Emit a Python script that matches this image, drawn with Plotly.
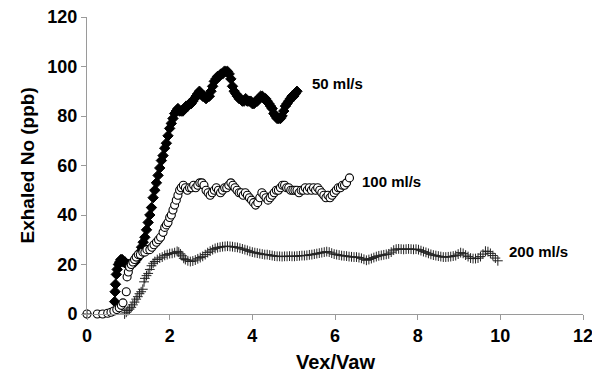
import plotly.graph_objects as go

# ---- data ----
x_50 = [0.67, 0.68, 0.69, 0.71, 0.73, 0.76, 0.79, 0.82, 0.85, 0.88, 0.92, 0.96, 1.00, 1.04, 1.08,
        1.12, 1.16, 1.20, 1.24, 1.28, 1.32, 1.36, 1.40, 1.44, 1.48, 1.52, 1.56, 1.60, 1.64, 1.68,
        1.72, 1.76, 1.80, 1.84, 1.88, 1.92, 1.96, 2.00, 2.04, 2.08, 2.12, 2.16, 2.20, 2.24, 2.28,
        2.32, 2.36, 2.40, 2.44, 2.48, 2.52, 2.56, 2.60, 2.64, 2.68, 2.72, 2.76, 2.80, 2.84, 2.88,
        2.92, 2.96, 3.00, 3.04, 3.08, 3.12, 3.16, 3.20, 3.24, 3.28, 3.32, 3.36, 3.40, 3.44, 3.48,
        3.52, 3.56, 3.60, 3.64, 3.68, 3.72, 3.76, 3.80, 3.84, 3.88, 3.92, 3.96, 4.00, 4.04, 4.08,
        4.12, 4.16, 4.20, 4.24, 4.28, 4.32, 4.36, 4.40, 4.44, 4.48, 4.52, 4.56, 4.60, 4.64, 4.68,
        4.72, 4.76, 4.80, 4.84, 4.88, 4.92, 4.96, 5.00, 5.04, 5.08]
y_50 = [5, 9, 12, 16, 18, 20, 21, 22, 22, 21, 21, 20, 20, 20, 20,
        21, 21, 22, 23, 25, 27, 29, 31, 34, 37, 40, 43, 47, 50, 53,
        56, 59, 62, 64, 67, 69, 72, 75, 77, 79, 81, 82, 83, 82, 82,
        82, 83, 84, 84, 85, 85, 86, 87, 88, 89, 90, 89, 88, 88, 87,
        88, 88, 90, 92, 94, 95, 96, 96, 97, 97, 98, 98, 98, 97, 95,
        92, 90, 89, 88, 87, 87, 86, 86, 87, 86, 86, 86, 85, 85, 86,
        86, 87, 88, 88, 87, 87, 86, 85, 84, 83, 81, 80, 79, 79, 79,
        80, 82, 84, 85, 86, 87, 88, 88, 89, 90]

x_100 = [0.00, 0.25, 0.38, 0.50, 0.58, 0.65, 0.72, 0.78, 0.83, 0.87, 0.95, 0.97, 1.00, 1.03, 1.07,
         1.11, 1.15, 1.19, 1.24, 1.29, 1.35, 1.40, 1.45, 1.52, 1.57, 1.62, 1.68, 1.73, 1.78, 1.84,
         1.88, 1.92, 1.96, 2.00, 2.04, 2.08, 2.12, 2.16, 2.20, 2.24, 2.28, 2.33, 2.38, 2.43, 2.48,
         2.53, 2.58, 2.63, 2.68, 2.73, 2.78, 2.83, 2.88, 2.93, 2.98, 3.03, 3.08, 3.13, 3.18, 3.23,
         3.28, 3.33, 3.38, 3.43, 3.48, 3.53, 3.58, 3.63, 3.68, 3.73, 3.78, 3.83, 3.88, 3.93, 3.98,
         4.03, 4.08, 4.13, 4.18, 4.23, 4.28, 4.33, 4.38, 4.43, 4.48, 4.53, 4.58, 4.63, 4.68, 4.73,
         4.78, 4.83, 4.88, 4.93, 4.98, 5.03, 5.08, 5.13, 5.18, 5.23, 5.28, 5.33, 5.38, 5.43, 5.48,
         5.53, 5.58, 5.63, 5.68, 5.73, 5.78, 5.83, 5.88, 5.93, 5.98, 6.03, 6.08, 6.13, 6.18, 6.23,
         6.28, 6.35]
y_100 = [0, 0, 0, 0.3, 0.7, 1.2, 1.8, 2.5, 3.5, 4.5, 9, 15, 17, 19, 20,
         21, 22, 23, 24, 24, 25, 25, 26, 26, 27, 28, 29, 30, 31, 33,
         35, 36, 37, 39, 40, 42, 44, 46, 48, 50, 51, 52, 51, 50, 51,
         51, 52, 51, 52, 53, 53, 52, 50, 49, 48, 49, 50, 51, 50, 49,
         50, 51, 51, 52, 53, 52, 51, 50, 49, 49, 48, 49, 48, 47, 46,
         45, 44, 45, 47, 49, 48, 47, 46, 47, 48, 49, 50, 50, 51, 52,
         52, 51, 51, 50, 50, 50, 50, 49, 50, 50, 51, 50, 51, 50, 51,
         50, 51, 50, 49, 48, 47, 48, 47, 48, 49, 50, 51, 51, 52, 52,
         53, 55]

x_200 = [0.00, 0.91, 0.95, 0.99, 1.03, 1.07, 1.11, 1.15, 1.19, 1.23, 1.27, 1.31, 1.35, 1.38, 1.40,
         1.44, 1.48, 1.52, 1.56, 1.60, 1.64, 1.70, 1.76, 1.82, 1.88, 1.94, 2.00, 2.06, 2.12, 2.18,
         2.22, 2.26, 2.30, 2.34, 2.38, 2.44, 2.50, 2.56, 2.62, 2.68, 2.74, 2.80, 2.86, 2.92, 2.98,
         3.04, 3.10, 3.16, 3.22, 3.28, 3.34, 3.40, 3.46, 3.52, 3.58, 3.64, 3.70, 3.76, 3.82, 3.88,
         3.94, 4.00, 4.06, 4.12, 4.18, 4.24, 4.30, 4.36, 4.42, 4.48, 4.54, 4.60, 4.66, 4.72, 4.78,
         4.84, 4.90, 4.96, 5.02, 5.08, 5.14, 5.20, 5.26, 5.32, 5.38, 5.44, 5.50, 5.56, 5.62, 5.68,
         5.74, 5.80, 5.86, 5.92, 5.98, 6.04, 6.10, 6.16, 6.22, 6.28, 6.34, 6.40, 6.46, 6.52, 6.58,
         6.64, 6.70, 6.76, 6.82, 6.88, 6.94, 7.00, 7.06, 7.12, 7.18, 7.24, 7.30, 7.36, 7.42, 7.48,
         7.54, 7.60, 7.66, 7.72, 7.78, 7.84, 7.90, 7.96, 8.02, 8.08, 8.14, 8.20, 8.26, 8.32, 8.38,
         8.44, 8.50, 8.56, 8.62, 8.68, 8.74, 8.80, 8.86, 8.92, 8.98, 9.04, 9.10, 9.16, 9.22, 9.28,
         9.34, 9.40, 9.46, 9.52, 9.58, 9.64, 9.70, 9.76, 9.82, 9.88, 9.94]
y_200 = [0, 0, 0.7, 1.4, 2, 2.7, 3.7, 4.8, 6, 7, 8.2, 9, 10, 13, 14.4,
         15.5, 16.4, 18, 19.5, 20.5, 21.2, 22, 22.6, 23, 23.7, 24, 24.4, 24.5, 24.8, 25.3,
         25, 24.3, 23.5, 22.5, 22, 21.5, 21.2, 21.4, 21.8, 22.3, 22.8, 23.3, 24, 24.8, 25.4,
         26, 26.5, 26.8, 27, 27.2, 27.3, 27.4, 27.3, 27.2, 27, 26.9, 26.6, 26.3, 26, 25.7,
         25.3, 25, 24.8, 24.6, 24.4, 24.2, 24, 24, 23.8, 23.6, 23.4, 23.3, 23.3, 23.2, 23.3,
         23.3, 23.4, 23.3, 23.3, 23.4, 23.5, 23.6, 23.6, 23.7, 23.9, 24, 24.2, 24.4, 24.6, 24.8,
         25, 25.2, 25, 24.6, 24.2, 24, 23.8, 23.6, 23.5, 23.4, 23.2, 23.1, 23, 23, 22.8,
         22.5, 22.1, 21.7, 22, 22.4, 22.8, 23.2, 23.5, 23.7, 23.9, 24.1, 24.3, 25, 25.8, 26.2,
         26.3, 26.2, 26.1, 26.2, 26.3, 26.2, 26.1, 26.2, 26, 25.6, 25.2, 24.9, 24.5, 24.1, 23.8,
         23.6, 23.4, 23.2, 23, 23, 23.1, 23.2, 23.4, 23.6, 24.2, 24.8, 24.5, 23.8, 23.2, 22.6,
         22.4, 22.4, 22.6, 23.2, 24.2, 25.4, 25.2, 24.5, 23.6, 22.6, 21.5]

series_labels = ["50 ml/s", "100 ml/s", "200 ml/s"]
label_x = [5.4, 6.6, 10.15]
label_y = [93, 53.5, 25.2]

x_ticks = [0, 2, 4, 6, 8, 10, 12]
y_ticks = [0, 20, 40, 60, 80, 100, 120]

x_title = "Vex/Vaw"
y_title = "Exhaled No (ppb)"

FONT = "Liberation Sans, Arial, sans-serif"

fig = go.Figure()
fig.add_trace(go.Scatter(x=x_50, y=y_50, mode="markers", name=series_labels[0],
                         marker=dict(symbol="diamond", size=8, color="black",
                                     line=dict(color="black", width=1)),
                         cliponaxis=False))
fig.add_trace(go.Scatter(x=x_100, y=y_100, mode="markers", name=series_labels[1],
                         marker=dict(symbol="circle", size=8, color="white",
                                     line=dict(color="black", width=1.1)),
                         cliponaxis=False))
fig.add_trace(go.Scatter(x=x_200, y=y_200, mode="markers", name=series_labels[2],
                         marker=dict(symbol="cross-thin-open", size=7, color="#222222",
                                     line=dict(color="#222222", width=1)),
                         cliponaxis=False))

for t, lx, ly in zip(series_labels, label_x, label_y):
    fig.add_annotation(x=lx, y=ly, xref="x", yref="y", text=t, showarrow=False,
                       xanchor="left", yanchor="middle",
                       font=dict(family=FONT, size=15, color="black", weight="bold"))

# axis titles
fig.add_annotation(x=0.5, y=-0.162, xref="paper", yref="paper", text=x_title,
                   showarrow=False, xanchor="center", yanchor="middle",
                   font=dict(family=FONT, size=20, color="black", weight="bold"))
fig.add_annotation(x=-0.119, y=0.5, xref="paper", yref="paper", text=y_title,
                   showarrow=False, xanchor="center", yanchor="middle", textangle=-90,
                   font=dict(family=FONT, size=19, color="black", weight="bold"))

axis_common = dict(showline=True, linecolor="#9a9a9a", linewidth=1, ticks="outside",
                   ticklen=5, tickcolor="#9a9a9a", showgrid=False, zeroline=False,
                   automargin=False, ticklabeloverflow="allow",
                   tickfont=dict(family=FONT, size=18, color="black", weight="bold"))

fig.update_layout(
    width=592, height=374,
    margin=dict(l=87, r=9, t=17, b=60),
    plot_bgcolor="white", paper_bgcolor="white",
    showlegend=False,
    xaxis=dict(range=[0, 12], tickvals=x_ticks, **axis_common),
    yaxis=dict(range=[0, 120], tickvals=y_ticks, **axis_common),
)

fig.write_html("out.html", config={"displayModeBar": False},
               post_script="document.body.style.margin='0';document.body.style.overflow='hidden';")
